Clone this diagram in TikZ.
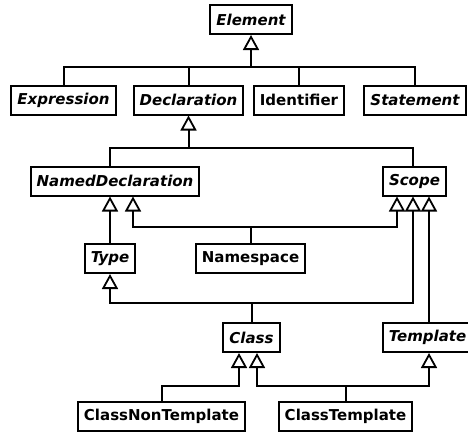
\documentclass[tikz,border=0pt]{standalone}
\usepackage{fontspec}
\setmainfont{DejaVu Sans}
\usetikzlibrary{arrows.meta,calc}
\tikzset{
  cls/.style={draw,line width=2pt,minimum height=29pt,inner xsep=6pt,inner ysep=0pt,
    font=\fontsize{15}{17}\selectfont\bfseries},
  abs/.style={cls,font=\fontsize{15}{17}\selectfont\bfseries\itshape},
  inh/.style={line width=2pt,-{Triangle[open,width=16pt,length=15pt,line width=1.8pt]}},
  lnk/.style={line width=2pt}
}
\begin{document}
\begin{tikzpicture}[x=1pt,y=-1pt]
\useasboundingbox (0,0) rectangle (468,432);
% classes
\node[abs] (elem) at (251,19.5) {Element};
\node[abs] (expr) at (63.5,100) {Expression};
\node[abs] (decl) at (188.5,100) {Declaration};
\node[cls] (ident) at (299,100) {Identifier};
\node[abs] (stmt) at (415,100) {Statement};
\node[abs] (nd) at (115,181) {NamedDeclaration};
\node[abs] (scope) at (414.5,181) {Scope};
\node[abs] (type) at (110,258.5) {Type};
\node[cls] (ns) at (250.5,258.5) {Namespace};
\node[abs] (class) at (251.5,337.5) {Class};
\node[abs] (tmpl) at (427.5,337.5) {Template};
\node[cls] (cnt) at (161.5,416) {ClassNonTemplate};
\node[cls] (ct) at (345.5,416) {ClassTemplate};
% Element
\coordinate (b1) at (251,67);
\draw[inh] (b1) -- (elem.south);
\draw[lnk] (expr.north) |- (b1) -| (stmt.north);
\draw[lnk] (decl.north) -- (decl.north |- b1);
\draw[lnk] (ident.north) -- (ident.north |- b1);
% Declaration
\coordinate (b2) at (188.5,148);
\draw[inh] (b2) -- (decl.south);
\draw[lnk] (nd.north -| type.north) |- (b2) -| ($(scope.north)+(-1.5,0)$);
% Namespace
\coordinate (b3) at (250.5,227);
\draw[lnk] (ns.north) -- (b3);
\draw[inh] (b3) -| ($(nd.south)+(18,0)$);
\draw[inh] (b3) -| ($(scope.south)+(-17.5,0)$);
% Type
\draw[inh] (type.north) -- (type.north |- nd.south);
% Class
\coordinate (b4) at (251.5,303);
\draw[lnk] (class.north) -- (b4);
\draw[inh] (b4) -| (type.south);
\draw[inh] (b4) -| ($(scope.south)+(-1.5,0)$);
% Template
\coordinate (t1) at ($(tmpl.north)+(1.5,0)$);
\draw[inh] (t1) -- (t1 |- scope.south);
% ClassNonTemplate, ClassTemplate
\coordinate (b5) at (239,386);
\coordinate (b6) at (345.5,386);
\draw[inh] (cnt.north) |- (b5) -- (b5 |- class.south);
\draw[lnk] (ct.north) -- (b6);
\draw[inh] (b6) -| ($(class.south)+(5.5,0)$);
\draw[inh] (b6) -| ($(tmpl.south)+(1.5,0)$);
\end{tikzpicture}
\end{document}
